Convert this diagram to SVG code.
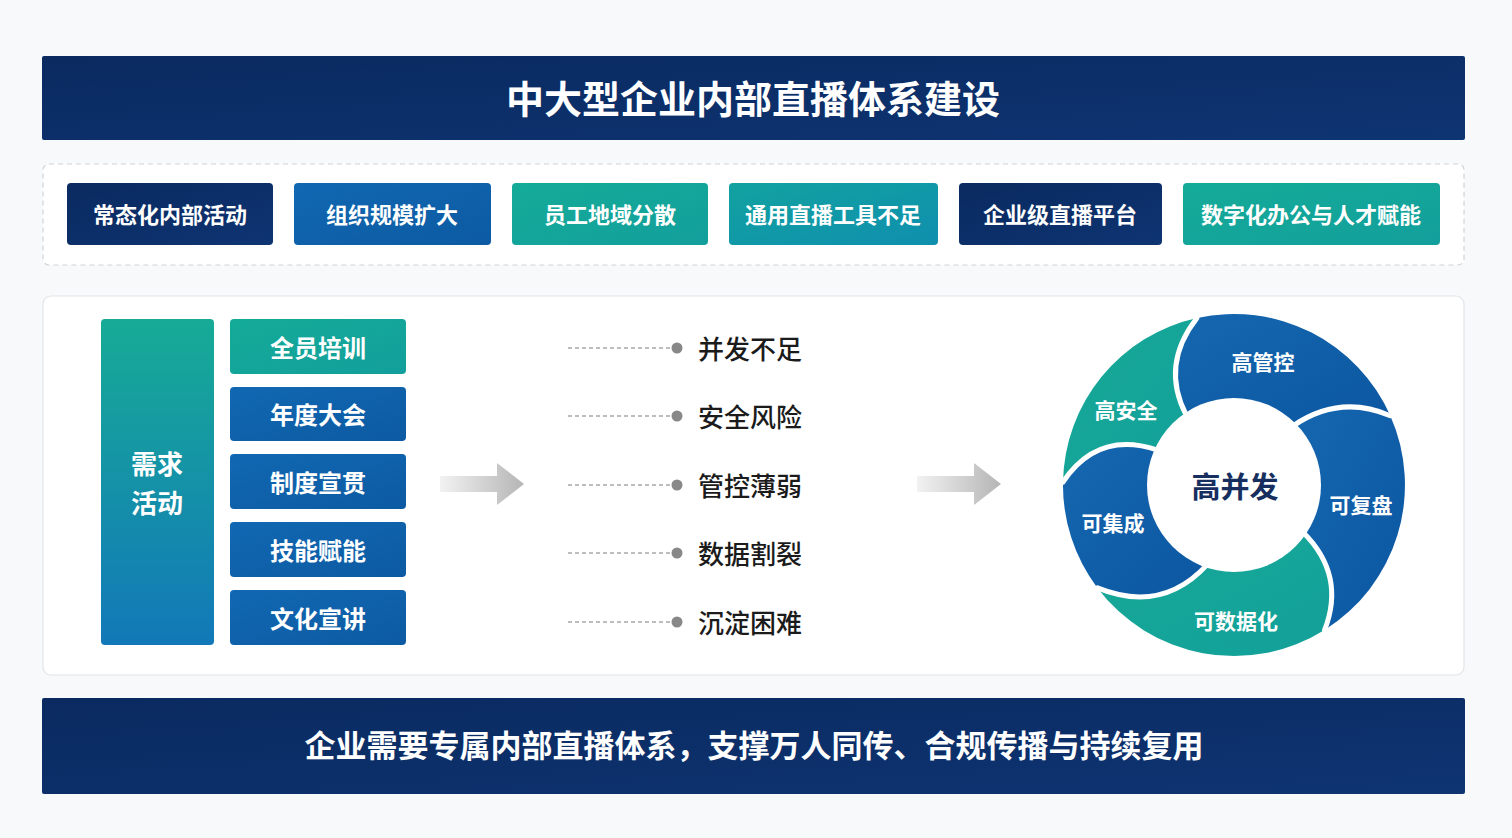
<svg xmlns="http://www.w3.org/2000/svg" width="1512" height="838" viewBox="0 0 1512 838">
<defs>
<style>
.t{font-family:"Noto Sans CJK SC","Noto Sans",sans-serif;font-weight:700;fill:#fff;text-anchor:middle;dominant-baseline:central}
.tag{font-size:22px}
.box{font-size:24px}
.lbl{font-family:"Noto Sans CJK SC","Noto Sans",sans-serif;font-weight:500;font-size:26px;fill:#1b1b1b;dominant-baseline:central}
.seg{font-size:21px}
.dash{stroke:#a8a8a8;stroke-width:1.6;stroke-dasharray:4 3;fill:none}
.dot{fill:#888}
.sep{fill:none;stroke:#fff;stroke-width:5;stroke-linecap:round}
</style>
<linearGradient id="navy" x1="0" y1="0" x2="1" y2="1"><stop offset="0" stop-color="#0a2a60"/><stop offset="1" stop-color="#0e3472"/></linearGradient>
<linearGradient id="blue" x1="0" y1="0" x2="1" y2="1"><stop offset="0" stop-color="#1168b2"/><stop offset="1" stop-color="#0c5aa2"/></linearGradient>
<linearGradient id="teal" x1="0" y1="0" x2="1" y2="1"><stop offset="0" stop-color="#14ab98"/><stop offset="1" stop-color="#139f9c"/></linearGradient>
<linearGradient id="tealblue" x1="0" y1="0" x2="1" y2="1"><stop offset="0" stop-color="#12a2a0"/><stop offset="1" stop-color="#0f8fae"/></linearGradient>
<linearGradient id="vert" x1="0" y1="0" x2="0" y2="1"><stop offset="0" stop-color="#17ab96"/><stop offset="1" stop-color="#1278b8"/></linearGradient>
<linearGradient id="arrowg" x1="0" y1="0" x2="1" y2="0"><stop offset="0" stop-color="#f2f2f2"/><stop offset="1" stop-color="#b5b5b5"/></linearGradient>
<linearGradient id="ringBlue" x1="0" y1="0" x2="1" y2="1"><stop offset="0" stop-color="#1566b0"/><stop offset="1" stop-color="#0c57a1"/></linearGradient>
<linearGradient id="ringTeal" x1="0" y1="0" x2="1" y2="1"><stop offset="0" stop-color="#18a997"/><stop offset="1" stop-color="#12a09a"/></linearGradient>
</defs>
<rect x="0" y="0" width="1512" height="838" fill="#f8f9fb"/>

<g id="title">
<rect x="42" y="56" width="1423" height="84" rx="2" fill="url(#navy)"/>
<text class="t" x="753" y="96" font-size="38">中大型企业内部直播体系建设</text>
</g>

<g id="tags">
<rect x="43" y="164" width="1421" height="101" rx="6" fill="#fff" stroke="#cfd3d8" stroke-width="1.2" stroke-dasharray="5 4"/>
<g id="tag1"><rect x="67" y="183" width="206" height="62" rx="4" fill="url(#navy)"/><text class="t tag" x="170" y="213">常态化内部活动</text></g>
<g id="tag2"><rect x="294" y="183" width="197" height="62" rx="4" fill="url(#blue)"/><text class="t tag" x="392" y="213">组织规模扩大</text></g>
<g id="tag3"><rect x="512" y="183" width="196" height="62" rx="4" fill="url(#teal)"/><text class="t tag" x="610" y="213">员工地域分散</text></g>
<g id="tag4"><rect x="729" y="183" width="209" height="62" rx="4" fill="url(#tealblue)"/><text class="t tag" x="833" y="213">通用直播工具不足</text></g>
<g id="tag5"><rect x="959" y="183" width="203" height="62" rx="4" fill="url(#navy)"/><text class="t tag" x="1060" y="213">企业级直播平台</text></g>
<g id="tag6"><rect x="1183" y="183" width="257" height="62" rx="4" fill="url(#teal)"/><text class="t tag" x="1311" y="213">数字化办公与人才赋能</text></g>
</g>

<rect id="panel" x="43" y="296" width="1421" height="379" rx="8" fill="#fff" stroke="#e1e4e8" stroke-width="1.2"/>

<g id="demand">
<rect x="101" y="319" width="113" height="326" rx="4" fill="url(#vert)"/>
<text class="t" x="157" y="462" font-size="26">需求</text>
<text class="t" x="157" y="501" font-size="26">活动</text>
</g>
<g id="b1"><rect x="230" y="319" width="176" height="55" rx="4" fill="url(#teal)"/><text class="t box" x="318" y="346">全员培训</text></g>
<g id="b2"><rect x="230" y="387" width="176" height="54" rx="4" fill="url(#blue)"/><text class="t box" x="318" y="413">年度大会</text></g>
<g id="b3"><rect x="230" y="454" width="176" height="55" rx="4" fill="url(#blue)"/><text class="t box" x="318" y="481">制度宣贯</text></g>
<g id="b4"><rect x="230" y="522" width="176" height="55" rx="4" fill="url(#blue)"/><text class="t box" x="318" y="549">技能赋能</text></g>
<g id="b5"><rect x="230" y="590" width="176" height="55" rx="4" fill="url(#blue)"/><text class="t box" x="318" y="617">文化宣讲</text></g>

<g id="connectors">
<polygon points="440,476 497,476 497,463 524,484 497,505 497,492 440,492" fill="url(#arrowg)"/>
<polygon points="917,476 974,476 974,463 1001,484 974,505 974,492 917,492" fill="url(#arrowg)"/>
<line class="dash" x1="568" y1="348" x2="670" y2="348"/><circle class="dot" cx="677" cy="348" r="5.5"/>
<line class="dash" x1="568" y1="416" x2="670" y2="416"/><circle class="dot" cx="677" cy="416" r="5.5"/>
<line class="dash" x1="568" y1="485" x2="670" y2="485"/><circle class="dot" cx="677" cy="485" r="5.5"/>
<line class="dash" x1="568" y1="553" x2="670" y2="553"/><circle class="dot" cx="677" cy="553" r="5.5"/>
<line class="dash" x1="568" y1="622" x2="670" y2="622"/><circle class="dot" cx="677" cy="622" r="5.5"/>
</g>

<g id="issues">
<text class="lbl" x="698" y="347">并发不足</text>
<text class="lbl" x="698" y="415">安全风险</text>
<text class="lbl" x="698" y="484">管控薄弱</text>
<text class="lbl" x="698" y="552">数据割裂</text>
<text class="lbl" x="698" y="621">沉淀困难</text>
</g>

<g id="ring">
<g id="seg-gk"><path d="M1197,318 A171,171 0 0 1 1390.3,415.7 Q1340,394 1293.4,425.6 A84,84 0 0 0 1186.5,415.7 Q1160,365 1197,318 Z" fill="url(#ringBlue)"/></g>
<g id="seg-fp"><path d="M1390.3,415.7 A171,171 0 0 1 1324.6,630 Q1346,575 1303.3,532.4 A84,84 0 0 0 1293.4,425.6 Q1340,394 1390.3,415.7 Z" fill="url(#ringBlue)"/></g>
<g id="seg-sj"><path d="M1324.6,630 A171,171 0 0 1 1097.4,587.9 Q1162,614 1207.2,564.6 A84,84 0 0 0 1303.3,532.4 Q1346,575 1324.6,630 Z" fill="url(#ringTeal)"/></g>
<g id="seg-jc"><path d="M1097.4,587.9 A171,171 0 0 1 1063,482 Q1098,430 1157.6,450.2 A84,84 0 0 0 1207.2,564.6 Q1162,614 1097.4,587.9 Z" fill="url(#ringBlue)"/></g>
<g id="seg-aq"><path d="M1063,482 A171,171 0 0 1 1197,318 Q1160,365 1186.5,415.7 A84,84 0 0 0 1157.6,450.2 Q1098,430 1063,482 Z" fill="url(#ringTeal)"/></g>
<path class="sep" d="M1197,318 Q1160,365 1186.5,415.7"/>
<path class="sep" d="M1390.3,415.7 Q1340,394 1293.4,425.6"/>
<path class="sep" d="M1324.6,630 Q1346,575 1303.3,532.4"/>
<path class="sep" d="M1097.4,587.9 Q1162,614 1207.2,564.6"/>
<path class="sep" d="M1063,482 Q1098,430 1157.6,450.2"/>
<circle cx="1234" cy="485" r="87" fill="#fff"/>
<text class="t seg" x="1263" y="361">高管控</text>
<text class="t seg" x="1361" y="504">可复盘</text>
<text class="t seg" x="1236" y="620">可数据化</text>
<text class="t seg" x="1113" y="522">可集成</text>
<text class="t seg" x="1126" y="409">高安全</text>
<text class="t" x="1235" y="485" font-size="29" style="fill:#172f5f">高并发</text>
</g>

<g id="footer">
<rect x="42" y="698" width="1423" height="96" rx="2" fill="url(#navy)"/>
<text class="t" x="754" y="743" font-size="31">企业需要专属内部直播体系，支撑万人同传、合规传播与持续复用</text>
</g>
</svg>
